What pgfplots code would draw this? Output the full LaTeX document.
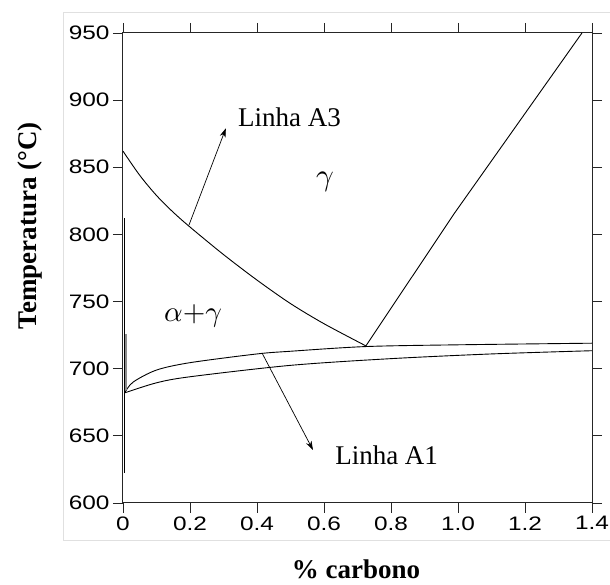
\documentclass[border=0pt]{standalone}
\usepackage{pgfplots}
\pgfplotsset{compat=1.18}
\usepackage{fontspec}
\setmainfont{Liberation Serif}
\newfontfamily\ticksf[FakeStretch=1.25]{Liberation Sans}
\usetikzlibrary{arrows.meta}

\begin{document}
\begin{tikzpicture}[x=1pt,y=1pt]
\draw[black!12, line width=0.8pt] (-60,-37) rectangle (495,491);
\begin{axis}[
 at={(0pt,0pt)}, anchor=south west,
 scale only axis, width=469pt, height=470pt,
 xmin=0, xmax=1.4, ymin=600, ymax=950,
 xtick={0,0.2,0.4,0.6,0.8,1.0,1.2,1.4},
 xticklabels={0,0.2,0.4,0.6,0.8,1.0,1.2,1.4},
 ytick={600,650,700,750,800,850,900,950},
 yticklabels={600,650,700,750,800,850,900,950},
 tick align=outside, major tick length=10pt,
 tick style={black!85, line width=0.9pt},
 axis line style={black!85, line width=1pt},
 ticklabel style={font=\ticksf\fontsize{19.5}{21}\selectfont, text=black},
 clip=false,
]
% A3 line
\addplot[black, line width=0.9pt, smooth] coordinates {
 (0,862) (0.05,844) (0.1,829) (0.15,816.5) (0.2,805.5) (0.3,785) (0.4,766) (0.5,748.5) (0.6,733.5) (0.725,717)};
% Acm line
\addplot[black, line width=0.9pt] coordinates {(0.725,717) (0.99,816) (1.37,950)};
% upper eutectoid curve
\addplot[black, line width=0.9pt, smooth] coordinates {
 (0.005,682) (0.03,690) (0.1,699) (0.2,704.5) (0.4,711) (0.5,713) (0.725,716.5) (1.0,717.8) (1.4,719)};
% lower curve
\addplot[black, line width=0.9pt, smooth] coordinates {
 (0.005,682) (0.1,689.5) (0.2,694) (0.5,702.5) (0.8,707.5) (1.1,711) (1.4,713.4)};
% near-zero lines
\addplot[black, line width=1.6pt] coordinates {(0.004,812) (0.004,682) (0.004,622)};
\addplot[black!45, line width=1.4pt] coordinates {(0.009,726) (0.009,684)};
% annotations
\draw[-{Stealth[length=9pt,width=6pt]}, line width=0.7pt] (axis cs:0.197,807) -- (axis cs:0.307,879);
\draw[-{Stealth[length=9pt,width=6pt]}, line width=0.7pt] (axis cs:0.415,711.7) -- (axis cs:0.567,639.5);
\node[anchor=base west, font=\fontsize{27}{30}\selectfont, inner sep=0pt] at (axis cs:0.343,880) {Linha A3};
\node[anchor=base west, font=\fontsize{27}{30}\selectfont, inner sep=0pt] at (axis cs:0.633,628.3) {Linha A1};
\node at (axis cs:0.603,839) {\scalebox{3.1}{$\gamma$}};
\node at (axis cs:0.209,739) {\scalebox{2.9}{$\alpha{+}\gamma$}};
\end{axis}
\node[rotate=90, font=\bfseries\fontsize{27}{30}\selectfont] at (-93,277) {Temperatura (°C)};
\node[anchor=base, inner sep=0pt, font=\bfseries\fontsize{27}{30}\selectfont] at (233,-76) {\% carbono};
\pgfresetboundingbox
\path[use as bounding box] (-123,-82) rectangle (487,503);
\end{tikzpicture}
\end{document}
